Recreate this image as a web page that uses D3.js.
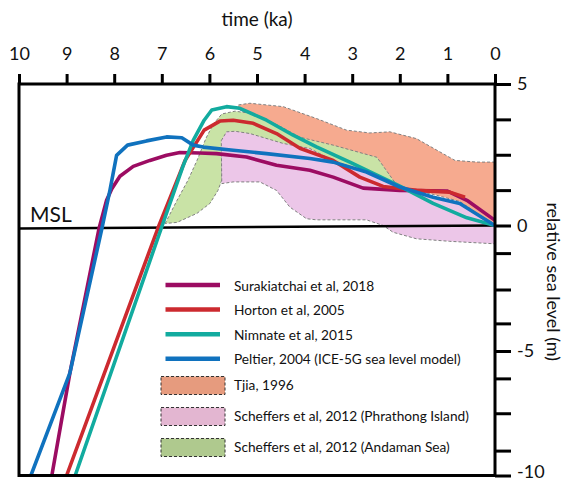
<!DOCTYPE html>
<html><head><meta charset="utf-8">
<script src="https://cdn.jsdelivr.net/npm/d3@7"></script>
<style>
body{margin:0;background:#fff}
svg{display:block}
text{font-family:Lato, "Open Sans", sans-serif; fill:#111}
</style>
</head><body>
<svg id="c" width="570" height="483"></svg>
<script>
// ---- data (time in ka, relative sea level in m) ----
const timeTicks = [10,9,8,7,6,5,4,3,2,1,0];
const levelMajorTicks = [5,0,-5,-10];
const levelMinorTicks = [3.75,2.5,1.25,-1.1,-2.55,-3.9,-6.1,-7.5,-9];
const mslLine = [[10,-0.12],[0,0]];

const surakiatchai = [[9.31,-10],[8.93,-5.88],[8.32,-0.13],[8.16,0.89],[8.05,1.30],[7.88,1.74],[7.60,2.09],[7.25,2.30],[6.90,2.48],[6.62,2.58],[6.20,2.56],[5.85,2.54],[5.22,2.42],[4.59,2.13],[3.89,1.95],[3.40,1.71],[2.77,1.32],[2.00,1.24],[1.01,1.22],[0.59,0.89],[0,0.18]];
const horton = [[9.0,-10],[7.08,-0.1],[6.51,2.3],[6.11,3.37],[5.78,3.69],[5.50,3.72],[5.08,3.61],[4.59,3.25],[4.10,2.73],[3.40,2.30],[2.84,1.71],[2.35,1.38],[1.65,1.24],[0.95,1.18],[0.63,1.0]];
const nimnate = [[8.82,-10],[7.0,-0.05],[6.56,2.07],[6.34,3.01],[6.11,3.72],[5.95,4.08],[5.64,4.20],[5.36,4.14],[4.80,3.72],[4.24,3.19],[3.75,2.78],[3.05,2.24],[2.35,1.67],[2.0,1.39],[1.30,0.78],[0.59,0.27],[0,0]];
const peltier = [[9.75,-10],[8.93,-5.88],[8.26,-0.13],[8.09,1.24],[7.95,2.48],[7.72,2.84],[7.32,2.99],[6.90,3.13],[6.58,3.10],[6.34,2.84],[6.13,2.77],[5.50,2.66],[4.80,2.54],[3.89,2.37],[3.40,2.24],[2.70,1.89],[2.00,1.36],[1.30,1.00],[0.74,0.78],[0,0]];

const tjia = [[5.39,4.26],[5.15,4.32],[4.45,4.20],[3.75,3.78],[3.12,3.37],[2.63,3.27],[2.21,3.31],[1.65,3.07],[1.22,2.66],[0.84,2.30],[0.38,2.24],[0,2.24],[0,0],[0.74,0.85],[1.3,1.1],[2.0,1.35],[2.5,1.8],[3.4,2.4],[4.1,3.0],[4.6,3.5],[5.1,3.9],[5.39,4.1]];
const andaman = [[6.93,0.07],[6.68,0.89],[6.45,1.60],[6.26,2.30],[6.07,3.09],[5.92,3.58],[5.74,3.94],[5.46,4.04],[5.04,3.94],[4.52,3.51],[4.10,3.12],[3.40,2.84],[2.48,2.41],[2.06,1.42],[2.42,1.17],[3.47,1.95],[4.31,2.30],[5.15,2.48],[5.74,2.66],[5.74,1.60],[5.82,1.24],[5.99,0.78],[6.26,0.43],[6.68,0.11]];
const phrathong = [[5.75,3.0],[5.64,3.31],[5.46,3.33],[5.15,3.25],[4.45,2.90],[3.89,2.72],[3.40,2.30],[2.71,1.88],[2.0,1.35],[1.30,1.03],[0.74,0.78],[0,0.05],[0,-0.73],[0.95,-0.63],[1.65,-0.53],[2.14,-0.27],[2.35,0],[2.70,0.20],[3.75,0.20],[3.96,0.24],[4.31,0.65],[4.59,1.24],[4.94,1.54],[5.50,1.54],[5.74,1.48]];

const lineSeries = [
  {name:"Surakiatchai et al, 2018", data:surakiatchai, color:"#9c0c62"},
  {name:"Horton et al, 2005", data:horton, color:"#cc2a2f"},
  {name:"Nimnate et al, 2015", data:nimnate, color:"#12ab9f"},
  {name:"Peltier, 2004 (ICE-5G sea level model)", data:peltier, color:"#1072be"}
];
const bandSeries = [
  {name:"Tjia, 1996", data:tjia, fill:"#f6aa8f", legendFill:"#e69b7e"},
  {name:"Scheffers et al, 2012 (Phrathong Island)", data:phrathong, fill:"#ecc6e8", legendFill:"#e3b6d1"},
  {name:"Scheffers et al, 2012 (Andaman Sea)", data:andaman, fill:"#c9e3a6", legendFill:"#afc98e"}
];
// draw order of bands: Tjia, Andaman, Phrathong
const bandDrawOrder = [0,2,1];

// ---- layout ----
const svg = d3.select("#c");
const x = d3.scaleLinear().domain([10,0]).range([19,495]);
const y = d3.scaleLinear().domain([-10,-5,0,5]).range([475.5,351,225.5,84]);

svg.append("defs").append("clipPath").attr("id","plot")
  .append("rect").attr("x",x(10)).attr("y",y(5)).attr("width",x(0)-x(10)).attr("height",y(-10)-y(5));

const g = svg.append("g").attr("clip-path","url(#plot)");
const poly = d3.line().x(d=>x(d[0])).y(d=>y(d[1])).curve(d3.curveLinearClosed);
const path = d3.line().x(d=>x(d[0])).y(d=>y(d[1]));

g.selectAll("path.band").data(bandDrawOrder.map(i=>bandSeries[i])).join("path")
  .attr("class","band").attr("d",d=>poly(d.data)).attr("fill",d=>d.fill)
  .attr("stroke","#808080").attr("stroke-width",1).attr("stroke-dasharray","3,2");

g.append("path").attr("d",path(mslLine)).attr("stroke","#000").attr("stroke-width",2.4).attr("fill","none");

g.selectAll("path.ser").data(lineSeries).join("path")
  .attr("class","ser").attr("d",d=>path(d.data)).attr("fill","none")
  .attr("stroke",d=>d.color).attr("stroke-width",3.6).attr("stroke-linejoin","round");

// frame
svg.append("rect").attr("x",x(10)).attr("y",y(5)).attr("width",x(0)-x(10)).attr("height",y(-10)-y(5))
  .attr("fill","none").attr("stroke","#000").attr("stroke-width",3);

// top axis
const ax = svg.append("g").attr("transform",`translate(0,${y(5)})`)
  .call(d3.axisTop(x).tickValues(timeTicks).tickSize(10).tickSizeOuter(0).tickPadding(14).tickFormat(d3.format("d")));
ax.select(".domain").remove();
ax.selectAll("line").attr("stroke","#000").attr("stroke-width",3);
ax.selectAll("text").style("font-family","Lato, sans-serif").style("font-size","18px").attr("fill","#111");

// right axis
const ay = svg.append("g").attr("transform",`translate(${x(0)},0)`)
  .call(d3.axisRight(y).tickValues(levelMajorTicks.concat(levelMinorTicks)).tickSize(16).tickSizeOuter(0).tickPadding(6)
    .tickFormat(d=>levelMajorTicks.includes(d)?String(d):""));
ay.select(".domain").remove();
ay.selectAll("line").attr("stroke","#000").attr("stroke-width",3);
ay.selectAll("text").style("font-family","Lato, sans-serif").style("font-size","18px").attr("fill","#111");
ay.selectAll(".tick").filter(d=>d===-10).select("text").attr("dy","0.1em");

// titles
svg.append("text").attr("x",x(5)).attr("y",26).attr("text-anchor","middle").style("font-size","19px").text("time (ka)");
svg.append("text").attr("transform",`translate(554,${(y(5)+y(-10))/2+2}) rotate(90)`).attr("text-anchor","middle")
  .attr("dominant-baseline","central").style("font-size","18px").text("relative sea level (m)");
svg.append("text").attr("x",30).attr("y",222).style("font-size","21px").text("MSL");

// legend
const lg = svg.append("g");
const lx0 = 165.5, lx1 = 220, tx = 234;
lineSeries.forEach((s,i)=>{
  const yy = 285 + i*24.6;
  lg.append("line").attr("x1",lx0).attr("x2",lx1).attr("y1",yy).attr("y2",yy).attr("stroke",s.color).attr("stroke-width",4.5);
  lg.append("text").attr("x",tx).attr("y",yy).attr("dominant-baseline","central").style("font-size","13.7px").text(s.name);
});
bandSeries.forEach((s,i)=>{
  const yy = 385.5 + i*31;
  lg.append("rect").attr("x",161).attr("y",yy-9).attr("width",64).attr("height",18).attr("fill",s.legendFill)
    .attr("stroke","#333").attr("stroke-width",1).attr("stroke-dasharray","3,2");
  lg.append("text").attr("x",tx).attr("y",yy-1).attr("dominant-baseline","central").style("font-size","13.7px").text(s.name);
});
</script>
</body></html>
